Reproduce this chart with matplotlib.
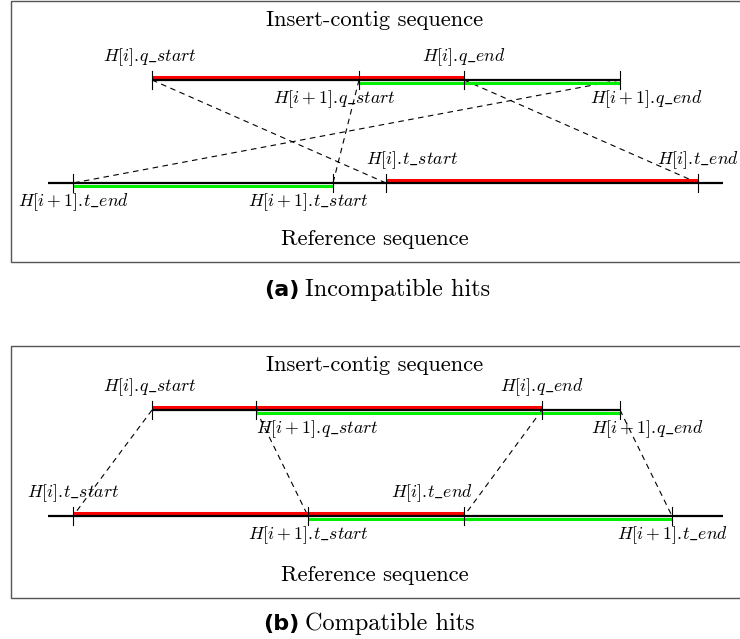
import matplotlib
matplotlib.use('Agg')
import matplotlib.pyplot as plt
from matplotlib.patches import Rectangle

plt.rcParams['mathtext.fontset'] = 'cm'

# hit coordinates (pixel units along each sequence)
# panel (a): incompatible hits
a_q = {'qs_i': 152, 'qe_i': 464, 'qs_j': 359, 'qe_j': 620}
a_t = {'ts_i': 386, 'te_i': 698, 'ts_j': 333, 'te_j': 73}
# panel (b): compatible hits
b_q = {'qs_i': 152, 'qe_i': 542, 'qs_j': 256, 'qe_j': 620}
b_t = {'ts_i': 73, 'te_i': 464, 'ts_j': 308, 'te_j': 672}

seq_extent = [48, 723]       # reference line extent
labels = {
    'qs_i': r'$H[i].\!q\_start$', 'qe_i': r'$H[i].\!q\_end$',
    'qs_j': r'$H[i+1].\!q\_start$', 'qe_j': r'$H[i+1].\!q\_end$',
    'ts_i': r'$H[i].\!t\_start$', 'te_i': r'$H[i].\!t\_end$',
    'ts_j': r'$H[i+1].\!t\_start$', 'te_j': r'$H[i+1].\!t\_end$',
}

fig = plt.figure(figsize=(7.4, 6.39), dpi=100)
ax = fig.add_axes([0, 0, 1, 1])
ax.set_xlim(0, 740)
ax.set_ylim(639, 0)
ax.axis('off')

red = '#ff0000'
green = '#00ee00'
lab_fs = 12.8


def draw_panel(top, bottom, yq, yt, q, t, qlab, tlab, cap_letter, cap_text, ycap):
    ax.add_patch(Rectangle((11, top), 740, bottom - top, fill=False,
                           edgecolor='#555555', linewidth=1.0))
    ax.text(375, top + 19, 'Insert-contig sequence', family='cmr10',
            fontsize=16.2, ha='center', va='center')
    ax.text(375, bottom - 23, 'Reference sequence', family='cmr10',
            fontsize=16.2, ha='center', va='center')

    # query line
    ax.plot([min(q.values()), max(q.values())], [yq, yq], color='k', lw=1.6,
            solid_capstyle='butt', zorder=3)
    ax.plot([q['qs_i'], q['qe_i']], [yq - 3, yq - 3], color=red, lw=2.2,
            solid_capstyle='butt', zorder=2)
    ax.plot([q['qs_j'], q['qe_j']], [yq + 3, yq + 3], color=green, lw=2.2,
            solid_capstyle='butt', zorder=2)
    # reference line
    ax.plot(seq_extent, [yt, yt], color='k', lw=1.6, solid_capstyle='butt', zorder=3)
    ti = sorted([t['ts_i'], t['te_i']])
    tj = sorted([t['ts_j'], t['te_j']])
    ax.plot(ti, [yt - 3, yt - 3], color=red, lw=2.2, solid_capstyle='butt', zorder=2)
    ax.plot(tj, [yt + 3, yt + 3], color=green, lw=2.2, solid_capstyle='butt', zorder=2)

    # ticks
    for k, x in q.items():
        ax.plot([x, x], [yq - 9, yq + 9], color='k', lw=0.8, zorder=4)
    for k, x in t.items():
        ax.plot([x, x], [yt - 9, yt + 9], color='k', lw=0.8, zorder=4)

    # dashed connectors
    for a, b in [('qs_i', 'ts_i'), ('qe_i', 'te_i'), ('qs_j', 'ts_j'), ('qe_j', 'te_j')]:
        ax.plot([q[a], t[b]], [yq, yt], color='k', lw=0.8, ls=(0, (5, 4)), zorder=1)

    for k, (dx, dy) in qlab.items():
        ax.text(q[k] + dx, yq + dy, labels[k], fontsize=lab_fs, ha='center', va='center')
    for k, (dx, dy) in tlab.items():
        ax.text(t[k] + dx, yt + dy, labels[k], fontsize=lab_fs, ha='center', va='center')

    ax.text(299, ycap, cap_letter, family='DejaVu Sans', weight='bold', fontsize=16,
            ha='right', va='center')
    ax.text(305, ycap, cap_text, family='cmr10', fontsize=17.5, ha='left', va='center')


draw_panel(1, 262, 80, 183, a_q, a_t,
           {'qs_i': (-2, -23), 'qe_i': (0, -23), 'qs_j': (-25, 19), 'qe_j': (26, 19)},
           {'te_j': (0, 19), 'ts_j': (-25, 19), 'ts_i': (26, -23), 'te_i': (0, -23)},
           '(a)', 'Incompatible hits', 290)
draw_panel(346, 598, 410, 516, b_q, b_t,
           {'qs_i': (-2, -23), 'qe_i': (0, -23), 'qs_j': (61, 19), 'qe_j': (27, 19)},
           {'ts_i': (0, -23), 'ts_j': (0, 19), 'te_i': (-32, -23), 'te_j': (0, 19)},
           '(b)', 'Compatible hits', 624)

fig.savefig('out.png', dpi=100)
